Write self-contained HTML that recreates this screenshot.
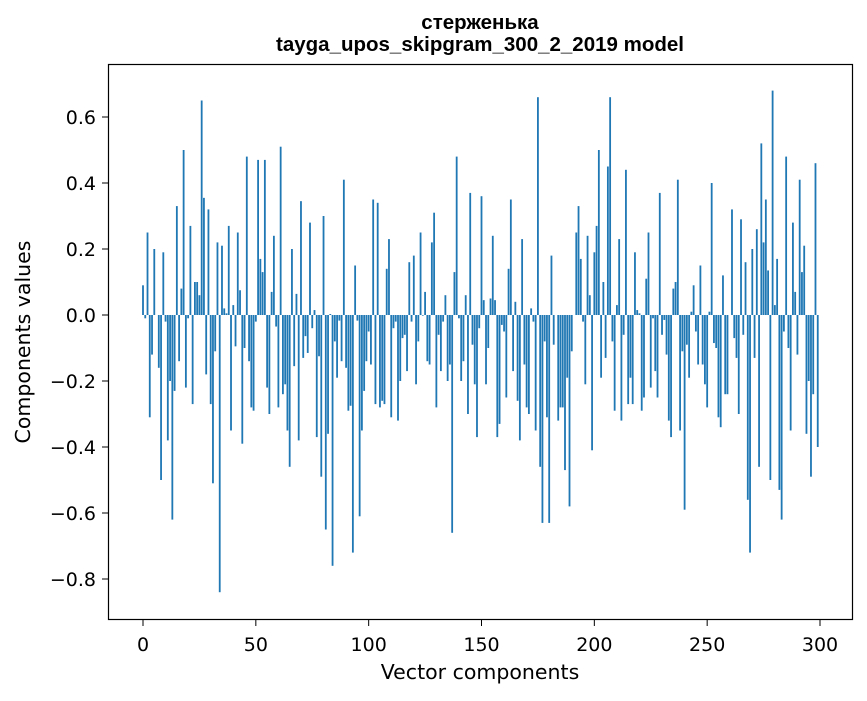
<!DOCTYPE html>
<html><head><meta charset="utf-8"><style>
body{margin:0;background:#fff;}
svg text{font-family:"DejaVu Sans","Liberation Sans",sans-serif;fill:#000;}
svg text.ttl{font-family:"Liberation Sans","DejaVu Sans",sans-serif;}
</style></head><body>
<svg id="chart" width="867" height="696" xmlns="http://www.w3.org/2000/svg">
<rect width="867" height="696" fill="#fff"/>
<text class="ttl" x="480" y="29" text-anchor="middle" font-size="20.5" font-weight="bold">стерженька</text>
<text class="ttl" x="480" y="51" text-anchor="middle" font-size="20.5" font-weight="bold">tayga_upos_skipgram_300_2_2019 model</text>
<g id="bars"></g>
<g id="xticks"></g>
<g id="yticks"></g>
<rect x="108.5" y="64.5" width="744" height="555" fill="none" stroke="#000" stroke-width="1.2"/>
<text x="480" y="679" text-anchor="middle" font-size="20.5">Vector components</text>
<text transform="translate(30,342) rotate(-90)" text-anchor="middle" font-size="20.5">Components values</text>
</svg>
<script>
const values = [
0.09,-0.01,0.25,-0.31,-0.12,0.20,0.0,-0.16,-0.50,0.19,
-0.02,-0.38,-0.20,-0.62,-0.23,0.33,-0.14,0.08,0.50,-0.22,
-0.01,0.27,-0.27,0.10,0.10,0.06,0.65,0.355,-0.18,0.32,
-0.27,-0.51,-0.11,0.22,-0.84,0.21,0.02,0.005,0.27,-0.35,
0.03,-0.095,0.25,0.075,-0.39,-0.10,0.48,-0.14,-0.28,-0.29,
-0.02,0.47,0.17,0.13,0.47,-0.22,-0.30,0.07,0.24,-0.035,
-0.28,0.51,-0.24,-0.21,-0.35,-0.46,0.20,-0.155,0.064,-0.38,
0.345,-0.13,-0.064,-0.115,0.28,-0.04,0.015,-0.37,-0.125,-0.49,
0.30,-0.65,-0.36,0.003,-0.76,-0.08,-0.19,-0.017,-0.14,0.41,
-0.16,-0.29,-0.275,-0.72,0.15,-0.017,-0.61,-0.35,-0.23,-0.14,
-0.05,-0.15,0.35,-0.27,0.34,-0.28,-0.26,-0.27,0.14,0.23,
-0.31,-0.04,-0.02,-0.32,-0.20,-0.07,-0.06,-0.17,0.16,-0.02,
0.18,-0.21,-0.08,0.25,-0.002,0.07,-0.14,-0.15,0.22,0.31,
-0.28,-0.06,-0.17,-0.02,0.06,-0.20,-0.15,-0.66,0.13,0.48,
-0.01,-0.20,-0.14,0.06,-0.30,0.37,-0.09,-0.21,-0.37,-0.04,
0.36,0.045,-0.21,-0.10,0.05,0.24,0.045,-0.37,-0.33,-0.03,
-0.05,-0.25,0.14,0.35,-0.17,0.04,-0.26,-0.38,0.23,-0.15,
-0.28,-0.30,0.02,-0.02,-0.35,0.66,-0.46,-0.63,-0.08,-0.31,
-0.63,0.18,-0.09,0.0,-0.32,-0.28,-0.28,-0.47,-0.19,-0.58,
-0.11,0.0,0.25,0.33,0.17,-0.02,-0.21,0.24,0.06,-0.41,
0.19,0.27,0.50,-0.19,0.10,-0.13,0.45,0.66,-0.08,-0.29,
0.03,0.23,-0.32,-0.06,0.44,-0.27,-0.19,-0.27,0.19,0.015,
0.005,-0.29,-0.25,0.11,0.25,-0.22,-0.01,-0.17,-0.25,0.37,
-0.06,-0.015,-0.12,-0.32,-0.37,0.08,0.10,0.41,-0.35,-0.11,
-0.59,-0.09,-0.19,0.01,0.09,-0.05,-0.15,0.15,-0.15,-0.21,
-0.28,0.01,0.40,-0.085,-0.10,-0.31,-0.34,0.12,-0.24,-0.24,
0.0,0.32,-0.07,-0.13,-0.30,0.29,-0.06,0.16,-0.56,-0.72,
0.20,-0.13,0.26,-0.46,0.52,0.22,0.35,0.135,-0.50,0.68,
0.03,0.17,-0.53,-0.62,-0.05,0.48,-0.10,-0.35,0.28,0.07,
-0.12,0.41,0.13,0.21,-0.36,-0.20,-0.49,-0.24,0.46,-0.40
];
const xTickValues = [0,50,100,150,200,250,300];
const yTickValues = [-0.8,-0.6,-0.4,-0.2,0.0,0.2,0.4,0.6];

const NS="http://www.w3.org/2000/svg";
function xs(v){return 143 + v*(677/300);}
function ys(v){return 315 - v*330;}
const bars=document.getElementById('bars');
values.forEach((v,i)=>{
  const r=document.createElementNS(NS,'rect');
  const w=0.8*(677/300);
  r.setAttribute('x',xs(i)-w/2);
  r.setAttribute('width',w);
  r.setAttribute('y',Math.min(ys(v),ys(0)));
  r.setAttribute('height',Math.abs(ys(v)-ys(0)));
  r.setAttribute('fill','#1f77b4');
  
  
  bars.appendChild(r);
});
const xg=document.getElementById('xticks');
xTickValues.forEach(t=>{
  const l=document.createElementNS(NS,'line');
  l.setAttribute('x1',xs(t));l.setAttribute('x2',xs(t));
  l.setAttribute('y1',619.5);l.setAttribute('y2',626);
  l.setAttribute('stroke','#000');
  
  
  xg.appendChild(l);
  const tx=document.createElementNS(NS,'text');
  tx.setAttribute('x',xs(t));tx.setAttribute('y',651);
  tx.setAttribute('text-anchor','middle');tx.setAttribute('font-size','19');
  tx.textContent=String(t);
  
  
  xg.appendChild(tx);
});
const yg=document.getElementById('yticks');
yTickValues.forEach(t=>{
  const l=document.createElementNS(NS,'line');
  l.setAttribute('x1',102);l.setAttribute('x2',108.5);
  l.setAttribute('y1',ys(t));l.setAttribute('y2',ys(t));
  l.setAttribute('stroke','#000');
  
  
  yg.appendChild(l);
  const tx=document.createElementNS(NS,'text');
  tx.setAttribute('x',96);tx.setAttribute('y',ys(t)+7);
  tx.setAttribute('text-anchor','end');tx.setAttribute('font-size','19');
  tx.textContent=(t<0?'\u2212':'')+Math.abs(t).toFixed(1);
  
  
  yg.appendChild(tx);
});
</script>
</body></html>
